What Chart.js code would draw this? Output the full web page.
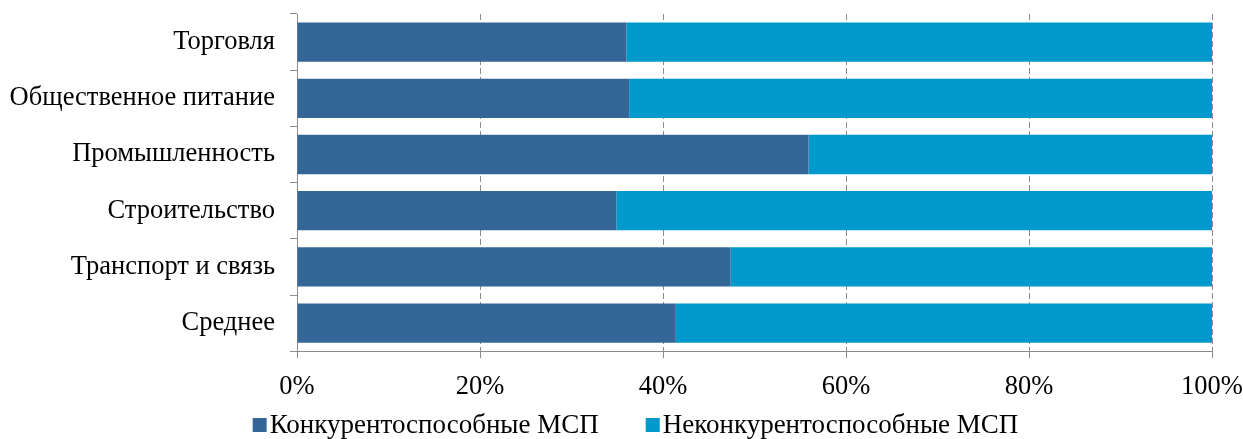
<!DOCTYPE html>
<html lang="ru">
<head>
<meta charset="utf-8">
<script src="https://cdn.jsdelivr.net/npm/chart.js@4/dist/chart.umd.min.js"></script>
<style>
  html, body { margin: 0; padding: 0; background: #fff; }
  #wrap { width: 1243px; height: 439px; position: relative; }
</style>
</head>
<body>
<div id="wrap"><canvas id="barChart"></canvas></div>
<script>
const SECTORS = [
    "Торговля",
    "Общественное питание",
    "Промышленность",
    "Строительство",
    "Транспорт и связь",
    "Среднее"
];
const COMPETITIVE = [36.0, 36.3, 55.9, 34.9, 47.4, 41.4];
const NON_COMPETITIVE = [64.0, 63.7, 44.1, 65.1, 52.6, 58.6];
const SERIES_NAMES = ["Конкурентоспособные МСП", "Неконкурентоспособные МСП"];
const COLORS = ["#356698", "#0099CB"];

const FONT = { family: "'Liberation Serif', 'Times New Roman', serif", size: 26.5 };
const LEGEND_FONT_SIZE = 27;
const AXIS_GRAY = "#8c8c8c";

// legend drawn by hand: square marker right next to the text
const bottomLegend = {
    id: "bottomLegend",
    afterDraw(chart) {
        const ctx = chart.ctx;
        ctx.save();
        ctx.font = LEGEND_FONT_SIZE + "px " + FONT.family;
        ctx.textBaseline = "middle";
        const box = 14, gap = 3, spacing = 47;
        const items = chart.data.datasets.map(ds => ({
            text: ds.label,
            color: ds.backgroundColor,
            w: ctx.measureText(ds.label).width
        }));
        const total = items.reduce((s, it) => s + box + gap + it.w, 0) + spacing * (items.length - 1);
        let x = chart.width / 2 + 14 - total / 2;
        const y = 425;
        items.forEach(it => {
            ctx.fillStyle = it.color;
            ctx.fillRect(x, y - box / 2, box, box);
            ctx.fillStyle = "#000";
            ctx.fillText(it.text, x + box + gap, y + 1);
            x += box + gap + it.w + spacing;
        });
        ctx.restore();
    }
};

const context = document.getElementById("barChart").getContext("2d");
const myChart = new Chart(context, {
    type: "bar",
    data: {
        labels: SECTORS,
        datasets: [
            { label: SERIES_NAMES[0], data: COMPETITIVE, backgroundColor: COLORS[0] },
            { label: SERIES_NAMES[1], data: NON_COMPETITIVE, backgroundColor: COLORS[1] }
        ]
    },
    options: {
        indexAxis: "y",
        responsive: true,
        maintainAspectRatio: false,
        animation: false,
        layout: { padding: { top: 14, right: 31, left: 0, bottom: 23 } },
        datasets: {
            bar: { barPercentage: 0.7, categoryPercentage: 1.0, borderWidth: 0 }
        },
        scales: {
            x: {
                stacked: true,
                min: 0,
                max: 100,
                ticks: {
                    stepSize: 20,
                    color: "#000",
                    font: FONT,
                    padding: 13,
                    callback: v => v + "%"
                },
                grid: { color: AXIS_GRAY, tickLength: 7, tickBorderDash: [] },
                border: { color: AXIS_GRAY, dash: [6, 3] },
                afterFit: scale => {
                    scale.paddingLeft = 0;
                    scale.paddingRight = 0;
                }
            },
            y: {
                stacked: true,
                ticks: { color: "#000", font: FONT, padding: 15 },
                grid: { color: AXIS_GRAY, drawOnChartArea: false, tickLength: 7 },
                border: { color: AXIS_GRAY },
                afterFit: scale => {
                    scale.width = 297;
                    scale.paddingTop = 0;
                    scale.paddingBottom = 0;
                }
            }
        },
        plugins: {
            legend: { display: false },
            tooltip: { enabled: false }
        }
    },
    plugins: [bottomLegend]
});
</script>
</body>
</html>
